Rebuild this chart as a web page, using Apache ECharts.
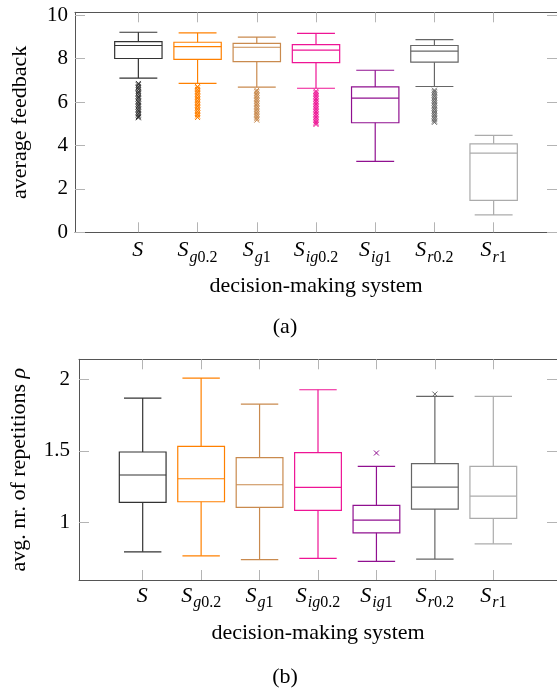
<!DOCTYPE html>
<html>
<head>
<meta charset="utf-8">
<script src="https://cdn.jsdelivr.net/npm/echarts@6/dist/echarts.min.js"></script>
<style>
html,body{margin:0;padding:0;background:#fff;}
#chart{width:557px;height:688px;}
</style>
</head>
<body>
<div id="chart"></div>
<script>
// ---------- data ----------
const categories = ['S', 'S_g0.2', 'S_g1', 'S_ig0.2', 'S_ig1', 'S_r0.2', 'S_r1'];
const categoryPos = [1, 2, 3, 4, 5, 6, 7];

// (a) average feedback
const feedbackMin    = [7.11, 6.86, 6.69, 6.64, 3.27, 6.72, 0.80];
const feedbackQ1     = [8.01, 7.97, 7.87, 7.82, 5.05, 7.84, 1.47];
const feedbackMedian = [8.61, 8.56, 8.53, 8.40, 6.18, 8.35, 3.65];
const feedbackQ3     = [8.79, 8.76, 8.71, 8.65, 6.70, 8.61, 4.08];
const feedbackMax    = [9.22, 9.19, 9.00, 9.17, 7.47, 8.88, 4.47];
const feedbackOutliersS    = [6.86, 6.80, 6.71, 6.65, 6.58, 6.49, 6.43, 6.36, 6.27, 6.21, 6.14, 6.05, 5.99, 5.91, 5.84, 5.77, 5.69, 5.62, 5.55, 5.47, 5.40, 5.33, 5.28];
const feedbackOutliersSg02 = [6.72, 6.66, 6.58, 6.51, 6.45, 6.37, 6.30, 6.22, 6.16, 6.08, 6.01, 5.94, 5.86, 5.80, 5.72, 5.65, 5.57, 5.50, 5.43, 5.36, 5.29];
const feedbackOutliersSg1  = [6.55, 6.49, 6.41, 6.34, 6.27, 6.19, 6.12, 6.05, 5.97, 5.90, 5.83, 5.75, 5.68, 5.61, 5.53, 5.46, 5.38, 5.31, 5.24, 5.17];
const feedbackOutliersSig02= [6.50, 6.44, 6.36, 6.29, 6.21, 6.14, 6.06, 5.99, 5.91, 5.84, 5.76, 5.69, 5.61, 5.54, 5.46, 5.39, 5.31, 5.24, 5.16, 5.09, 5.02, 4.97];
const feedbackOutliersSig1 = [];
const feedbackOutliersSr02 = [6.55, 6.48, 6.41, 6.33, 6.26, 6.18, 6.11, 6.03, 5.96, 5.88, 5.81, 5.73, 5.66, 5.58, 5.51, 5.43, 5.36, 5.28, 5.21, 5.13, 5.07];
const feedbackOutliersSr1  = [];
const feedbackOutliers = [feedbackOutliersS, feedbackOutliersSg02, feedbackOutliersSg1, feedbackOutliersSig02, feedbackOutliersSig1, feedbackOutliersSr02, feedbackOutliersSr1];

// (b) average number of repetitions
const repMin    = [0.794, 0.766, 0.739, 0.748, 0.727, 0.743, 0.850];
const repQ1     = [1.140, 1.144, 1.105, 1.084, 0.927, 1.093, 1.028];
const repMedian = [1.331, 1.305, 1.263, 1.245, 1.016, 1.247, 1.184];
const repQ3     = [1.492, 1.531, 1.452, 1.487, 1.119, 1.410, 1.392];
const repMax    = [1.869, 2.009, 1.827, 1.927, 1.392, 1.881, 1.881];
const repOutliers = [[], [], [], [], [1.485], [1.897], []];

// tick labels
const feedbackTicks = [0, 2, 4, 6, 8, 10];
const repTicks = [1, 1.5, 2];

// ---------- styles ----------
const colors = ['#333333', '#ff8000', '#c98a4e', '#ee1495', '#901090', '#666666', '#ababab'];
const FONT = 'Liberation Serif';
const FS = 21;      // tick labels
const FN = 22;      // axis names / captions
const BOX_EXTENT = 0.8, WHISKER_EXTENT = 0.64;
const frameColor = '#555555';
const tickColor = '#b4b4b4';

function catLabel(v) {
  const c = categories[Math.round(v) - 1];
  if (!c) return '';
  const m = /^([A-Z])_([a-z]+)([\d.]*)$/.exec(c);
  if (!m) return '{m|' + c + '}';
  return '{m|' + m[1] + '}{si|' + m[2] + '}' + (m[3] ? '{sn|' + m[3] + '}' : '');
}
const richCat = {
  m:  {fontFamily: FONT, fontSize: 22, fontStyle: 'italic', color: '#000', lineHeight: 22, padding: [0, 1, 4, 0], verticalAlign: 'bottom'},
  si: {fontFamily: FONT, fontSize: 16, fontStyle: 'italic', color: '#000', lineHeight: 16, verticalAlign: 'bottom'},
  sn: {fontFamily: FONT, fontSize: 16, color: '#000', lineHeight: 16, verticalAlign: 'bottom'}
};

function xAxes(gridIndex, min, max, name, nameGap, margin) {
  const common = {
    type: 'value', gridIndex, min, max,
    axisLine: {show: true, onZero: false, lineStyle: {color: frameColor, width: 1}},
    axisTick: {show: true, inside: true, length: 10, customValues: categoryPos, lineStyle: {color: tickColor, width: 1}},
    splitLine: {show: false}
  };
  return [
    Object.assign({}, common, {
      position: 'bottom',
      axisLabel: {show: true, customValues: categoryPos, margin, formatter: catLabel, rich: richCat},
      name, nameLocation: 'middle', nameGap,
      nameTextStyle: {fontFamily: FONT, fontSize: FN, color: '#000'}
    }),
    Object.assign({}, common, {position: 'top', axisLabel: {show: false}})
  ];
}
function yAxes(gridIndex, min, max, ticks, name, nameGap, margin) {
  const common = {
    type: 'value', gridIndex, min, max,
    axisLine: {show: true, onZero: false, lineStyle: {color: frameColor, width: 1}},
    axisTick: {show: true, inside: true, length: 10, customValues: ticks, lineStyle: {color: tickColor, width: 1}},
    splitLine: {show: false}
  };
  return [
    Object.assign({}, common, {
      position: 'left',
      axisLabel: {show: true, customValues: ticks, margin, fontFamily: FONT, fontSize: FS, color: '#000',
        formatter: v => String(v)},
      name, nameLocation: 'middle', nameGap, nameRotate: 90,
      nameTextStyle: {fontFamily: FONT, fontSize: FN, color: '#000', rich: {
        r: {fontFamily: FONT, fontSize: FN, fontStyle: 'italic', color: '#000'}}}
    }),
    Object.assign({}, common, {position: 'right', axisLabel: {show: false}})
  ];
}

function renderBox(params, api) {
  const x = api.value(0);
  const lo = api.coord([x, api.value(1)]);
  const q1 = api.coord([x, api.value(2)]);
  const md = api.coord([x, api.value(3)]);
  const q3 = api.coord([x, api.value(4)]);
  const hi = api.coord([x, api.value(5)]);
  const bw = api.size([BOX_EXTENT, 0])[0];
  const ww = api.size([WHISKER_EXTENT, 0])[0];
  const c = colors[params.dataIndex];
  const st = {stroke: c, lineWidth: 1.2, fill: 'none'};
  const cx = lo[0];
  return {type: 'group', children: [
    {type: 'line', shape: {x1: cx, y1: lo[1], x2: cx, y2: q1[1]}, style: st},
    {type: 'line', shape: {x1: cx, y1: q3[1], x2: cx, y2: hi[1]}, style: st},
    {type: 'line', shape: {x1: cx - ww / 2, y1: lo[1], x2: cx + ww / 2, y2: lo[1]}, style: st},
    {type: 'line', shape: {x1: cx - ww / 2, y1: hi[1], x2: cx + ww / 2, y2: hi[1]}, style: st},
    {type: 'rect', shape: {x: cx - bw / 2, y: q3[1], width: bw, height: q1[1] - q3[1]}, style: st},
    {type: 'line', shape: {x1: cx - bw / 2, y1: md[1], x2: cx + bw / 2, y2: md[1]}, style: st}
  ]};
}

function boxData(mins, q1s, meds, q3s, maxs) {
  return categoryPos.map((p, i) => [p, mins[i], q1s[i], meds[i], q3s[i], maxs[i]]);
}
function outlierData(outs) {
  const d = [];
  outs.forEach((arr, i) => arr.forEach(v => d.push({value: [categoryPos[i], v], itemStyle: {borderColor: colors[i]}})));
  return d;
}
const crossSymbol = 'path://M0,0L10,10M10,0L0,10';

const option = {
  animation: false,
  backgroundColor: '#fff',
  title: [
    {text: '(a)', left: 280, top: 311, textAlign: 'center', textStyle: {fontFamily: FONT, fontSize: FN, fontWeight: 'normal', color: '#000'}},
    {text: '(b)', left: 280, top: 661, textAlign: 'center', textStyle: {fontFamily: FONT, fontSize: FN, fontWeight: 'normal', color: '#000'}}
  ],
  grid: [
    {left: 75, top: 12.3, width: 485, height: 220, containLabel: false},
    {left: 78, top: 359.3, width: 486, height: 220.7, containLabel: false}
  ],
  xAxis: [].concat(
    xAxes(0, -0.07, 8.07, 'decision-making system', 43, 11),
    xAxes(1, -0.09, 8.09, 'decision-making system', 42, 9)
  ),
  yAxis: [].concat(
    yAxes(0, 0, 10.14, feedbackTicks, 'average feedback', 44, 7),
    yAxes(1, 0.597, 2.14, repTicks, 'avg. nr. of repetitions {r|ρ}', 49, 9)
  ),
  series: [
    {type: 'custom', xAxisIndex: 0, yAxisIndex: 0, renderItem: renderBox,
      data: boxData(feedbackMin, feedbackQ1, feedbackMedian, feedbackQ3, feedbackMax), z: 2},
    {type: 'scatter', xAxisIndex: 0, yAxisIndex: 0, symbol: crossSymbol, symbolSize: 5,
      itemStyle: {color: 'none', borderWidth: 1, opacity: 1},
      data: outlierData(feedbackOutliers), z: 3},
    {type: 'custom', xAxisIndex: 2, yAxisIndex: 2, renderItem: renderBox,
      data: boxData(repMin, repQ1, repMedian, repQ3, repMax), z: 2},
    {type: 'scatter', xAxisIndex: 2, yAxisIndex: 2, symbol: crossSymbol, symbolSize: 5,
      itemStyle: {color: 'none', borderWidth: 1, opacity: 1},
      data: outlierData(repOutliers), z: 3}
  ]
};

const chart = echarts.init(document.getElementById('chart'), null, {renderer: 'canvas'});
chart.setOption(option);
</script>
</body>
</html>
